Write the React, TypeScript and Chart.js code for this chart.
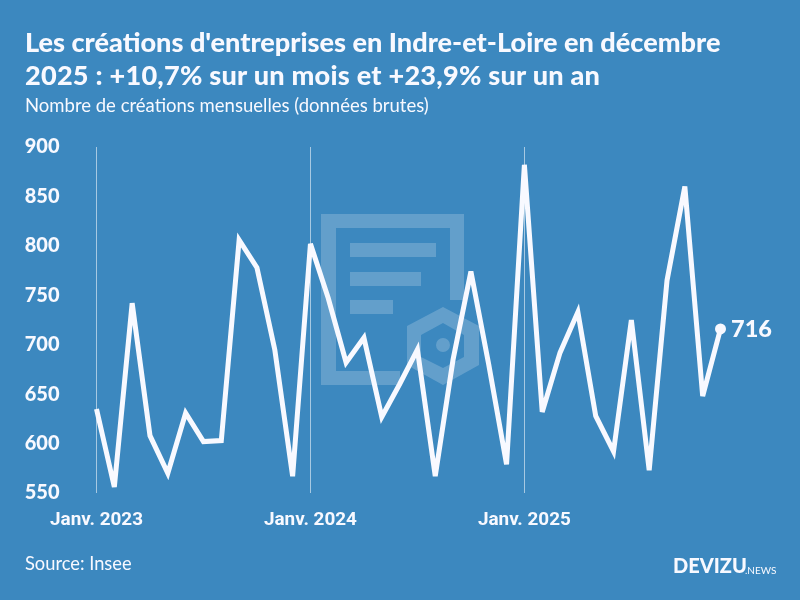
import React, { useEffect, useRef } from "react";
import { Chart, registerables } from "chart.js";

Chart.register(...registerables);

const titleLines = [
  "Les créations d'entreprises en Indre-et-Loire en décembre",
  "2025 : +10,7% sur un mois et +23,9% sur un an",
];
const subtitle = "Nombre de créations mensuelles (données brutes)";
const source = "Source: Insee";
const months = [
  "Janv. 2023", "", "", "", "", "", "", "", "", "", "", "",
  "Janv. 2024", "", "", "", "", "", "", "", "", "", "", "",
  "Janv. 2025", "", "", "", "", "", "", "", "", "", "", "",
];
const creations = [
  635, 556, 742, 608, 570, 631, 602, 603, 806, 778, 695, 567,
  802, 747, 682, 707, 627, 660, 695, 567, 685, 774, 680, 579,
  882, 632, 692, 733, 628, 592, 725, 573, 765, 860, 648, 716,
];

const BG = "#3c88bf";
const INK = "#f8f9ff";
const FONT = "Lato";

const lastLabel = {
  id: "lastLabel",
  beforeDatasetsDraw(chart: any) {
    chart.ctx.miterLimit = 4;
  },
  afterDatasetsDraw(chart: any) {
    const meta = chart.getDatasetMeta(0);
    const pt = meta.data[meta.data.length - 1];
    const ctx = chart.ctx;
    ctx.save();
    ctx.fillStyle = INK;
    ctx.font = `900 23.5px ${FONT}`;
    ctx.textAlign = "left";
    ctx.textBaseline = "middle";
    ctx.fillText(String(creations[creations.length - 1]), pt.x + 10.5, pt.y + 1);
    ctx.restore();
  },
};

const text = (
  left: number,
  top: number,
  size: number,
  weight: number,
  extra: React.CSSProperties = {}
): React.CSSProperties => ({
  position: "absolute",
  left,
  top,
  fontSize: size,
  fontWeight: weight,
  fontFamily: FONT,
  color: INK,
  whiteSpace: "nowrap",
  lineHeight: 1,
  ...extra,
});

export default function App() {
  const ref = useRef<HTMLCanvasElement>(null);
  useEffect(() => {
    document.body.style.margin = "0";
    const chart = new Chart(ref.current as HTMLCanvasElement, {
      type: "line",
      data: {
        labels: months,
        datasets: [
          {
            data: creations,
            borderColor: INK,
            borderWidth: 5,
            borderJoinStyle: "miter",
            tension: 0,
            fill: false,
            pointBackgroundColor: INK,
            pointBorderWidth: 0,
            pointRadius: (c: any) => (c.dataIndex === creations.length - 1 ? 5.5 : 0),
          },
        ],
      },
      options: {
        animation: false,
        responsive: false,
        layout: { padding: { top: 147, right: 79.5, bottom: 0, left: 0 } },
        plugins: { legend: { display: false }, tooltip: { enabled: false } },
        scales: {
          x: {
            type: "category",
            offset: false,
            border: { display: false },
            grid: {
              drawTicks: false,
              lineWidth: 1,
              color: (c: any) =>
                months[c.index] ? "rgba(255,255,255,0.55)" : "rgba(0,0,0,0)",
            },
            ticks: {
              autoSkip: false,
              maxRotation: 0,
              padding: 16,
              color: INK,
              font: { family: "Roboto", size: 18.9, weight: "bold" },
              callback: (_v: any, i: number) => months[i],
            },
            afterFit: (s: any) => {
              s.height = 107;
            },
          },
          y: {
            min: 550,
            max: 900,
            border: { display: false },
            grid: { display: false, drawTicks: false },
            ticks: {
              stepSize: 50,
              padding: 37,
              color: INK,
              font: { family: FONT, size: 20, weight: "900" },
            },
            afterFit: (s: any) => {
              s.width = 96.5;
            },
          },
        },
      },
      plugins: [lastLabel],
    } as any);
    return () => chart.destroy();
  }, []);

  return (
    <div style={{ position: "relative", width: 800, height: 600, background: BG, overflow: "hidden" }}>
      <svg width={800} height={600} style={{ position: "absolute", left: 0, top: 0 }}>
        <g fill="#ffffff" fillOpacity={0.2}>
          <path d="M321 214H464V300H450V228H336V371H400V385H321Z" />
          <rect x={350} y={243} width={86} height={14} />
          <rect x={350} y={272} width={71} height={14} />
          <rect x={350} y={300} width={43} height={14} />
          <path
            fillRule="evenodd"
            d="M443 307L479 326V365L443 385L407 365V326ZM443 323L421 335V357L443 368L464 357V335Z"
          />
          <circle cx={443} cy={345} r={7} />
        </g>
      </svg>
      <canvas ref={ref} width={800} height={600} style={{ position: "absolute", left: 0, top: 0 }} />
      <div style={text(25, 27.5, 27.1, 900)}>{titleLines[0]}</div>
      <div style={text(25, 60.5, 27.1, 900, { letterSpacing: 0.24 })}>{titleLines[1]}</div>
      <div style={text(25, 96, 18.5, 400)}>{subtitle}</div>
      <div style={text(25, 554, 18.3, 400)}>{source}</div>
      <div style={{ ...text(673, 555, 21.5, 900), transform: "scaleX(0.93)", transformOrigin: "left" }}>DEVIZU</div>
      <div style={text(745, 565, 10, 400)}>.NEWS</div>
    </div>
  );
}
